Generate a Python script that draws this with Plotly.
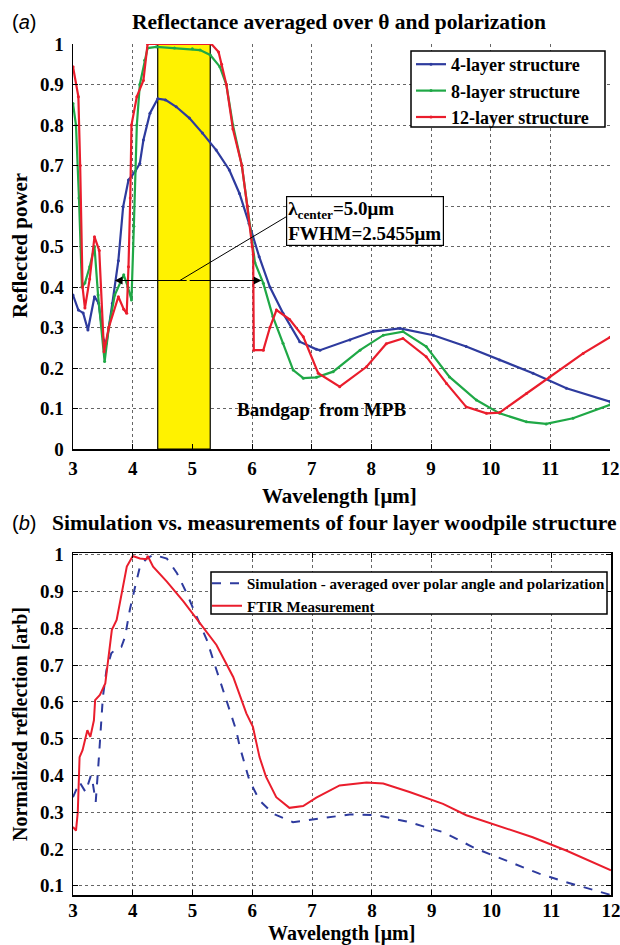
import plotly.graph_objects as go

# ---------------- data: panel (a) ----------------
x4 = [3.0, 3.09, 3.17, 3.25, 3.36, 3.43, 3.51, 3.56, 3.66, 3.76, 3.84, 3.93, 4.04, 4.12, 4.18, 4.29,
      4.42, 4.55, 4.73, 4.95, 5.17, 5.40, 5.62, 5.79, 5.95, 6.12, 6.30, 6.52, 6.80, 7.08, 7.14, 7.64,
      8.03, 8.48, 9.04, 9.59, 10.15, 10.71, 11.27, 12.0]
y4 = [0.38, 0.343, 0.336, 0.294, 0.376, 0.36, 0.27, 0.261, 0.36, 0.465, 0.598, 0.664, 0.685, 0.705,
      0.763, 0.829, 0.865, 0.862, 0.845, 0.817, 0.78, 0.738, 0.689, 0.631, 0.557, 0.475, 0.40, 0.335,
      0.265, 0.246, 0.244, 0.269, 0.29, 0.298, 0.281, 0.253, 0.22, 0.187, 0.15, 0.117]

x8 = [3.0, 3.05, 3.1, 3.15, 3.2, 3.28, 3.36, 3.42, 3.53, 3.6, 3.7, 3.85, 3.92, 3.98, 4.02, 4.07,
      4.12, 4.2, 4.25, 4.4, 4.7, 5.0, 5.13, 5.30, 5.46, 5.57, 5.68, 5.83, 5.92, 6.0, 6.05, 6.19,
      6.35, 6.52, 6.69, 6.86, 7.08, 7.36, 7.81, 8.2, 8.53, 8.92, 9.31, 9.76, 10.15, 10.6, 10.93,
      11.38, 12.0]
y8 = [0.853, 0.80, 0.62, 0.40, 0.41, 0.45, 0.50, 0.38, 0.216, 0.30, 0.38, 0.43, 0.40, 0.368, 0.55,
      0.80, 0.90, 0.96, 0.99, 0.993, 0.99, 0.988, 0.985, 0.973, 0.944, 0.90, 0.80, 0.70, 0.60, 0.51,
      0.46, 0.409, 0.327, 0.261, 0.195, 0.175, 0.177, 0.191, 0.244, 0.281, 0.29, 0.253, 0.178,
      0.121, 0.088, 0.067, 0.062, 0.076, 0.109]

x12 = [3.0, 3.09, 3.12, 3.16, 3.2, 3.28, 3.36, 3.44, 3.52, 3.6, 3.76, 3.85, 3.9, 3.93, 3.96, 3.98,
       4.07, 4.18, 4.25, 5.32, 5.44, 5.49, 5.57, 5.68, 5.83, 5.92, 6.0, 6.02, 6.03, 6.19, 6.30,
       6.41, 6.63, 6.86, 7.11, 7.47, 7.92, 8.25, 8.53, 8.92, 9.26, 9.59, 9.93, 10.15, 10.6, 10.99,
       11.55, 12.0]
y12 = [0.944, 0.87, 0.70, 0.40, 0.348, 0.42, 0.524, 0.49, 0.24, 0.30, 0.376, 0.345, 0.335, 0.45,
       0.62, 0.80, 0.87, 0.91, 1.0, 1.0, 0.98, 0.95, 0.90, 0.79, 0.70, 0.60, 0.50, 0.48, 0.244,
       0.244, 0.30, 0.343, 0.32, 0.277, 0.187, 0.154, 0.203, 0.26, 0.273, 0.228, 0.162, 0.104,
       0.088, 0.09, 0.137, 0.178, 0.236, 0.276]

# ---------------- data: panel (b) ----------------
x_sim = [3.0, 3.11, 3.21, 3.3, 3.33, 3.38, 3.43, 3.47, 3.5, 3.56, 3.64, 3.73, 3.81, 3.87, 3.95,
         4.04, 4.12, 4.23, 4.35, 4.57, 4.74, 4.9, 5.07, 5.24, 5.40, 5.57, 5.73, 5.79, 5.95, 6.12,
         6.35, 6.68, 7.07, 7.63, 8.08, 8.58, 9.19, 9.74, 10.24, 10.8, 11.25, 12.0]
y_sim = [0.341, 0.382, 0.355, 0.40, 0.38, 0.328, 0.441, 0.55, 0.614, 0.687, 0.732, 0.746, 0.75,
         0.777, 0.85, 0.914, 0.968, 0.99, 1.0, 0.99, 0.95, 0.896, 0.832, 0.768, 0.687, 0.605, 0.523,
         0.478, 0.387, 0.332, 0.296, 0.273, 0.282, 0.294, 0.292, 0.275, 0.246, 0.201, 0.169, 0.133,
         0.11, 0.075]

x_ftir = [3.0, 3.05, 3.08, 3.11, 3.16, 3.24, 3.29, 3.35, 3.37, 3.45, 3.54, 3.59, 3.65, 3.73, 3.81,
          3.9, 4.0, 4.12, 4.23, 4.25, 4.34, 4.57, 4.85, 5.12, 5.40, 5.68, 5.90, 6.01, 6.12, 6.23,
          6.4, 6.62, 6.85, 7.07, 7.46, 7.91, 8.19, 8.63, 9.19, 9.58, 10.19, 10.69, 11.25, 12.0]
y_ftir = [0.26, 0.25, 0.30, 0.45, 0.469, 0.523, 0.505, 0.55, 0.605, 0.619, 0.65, 0.723, 0.796,
          0.823, 0.896, 0.968, 0.997, 0.99, 0.988, 0.997, 0.968, 0.927, 0.873, 0.814, 0.755, 0.668,
          0.569, 0.532, 0.45, 0.396, 0.341, 0.312, 0.317, 0.34, 0.373, 0.381, 0.378, 0.355, 0.323,
          0.292, 0.26, 0.232, 0.196, 0.142]

x_ticks = [3, 4, 5, 6, 7, 8, 9, 10, 11, 12]
y_ticks_b = [0.1, 0.2, 0.3, 0.4, 0.5, 0.6, 0.7, 0.8, 0.9, 1]
bandgap = [4.42, 5.30]
fwhm_ends = [3.70, 6.16]
fwhm_y = 0.416

# ---------------- figure ----------------
SERIF = "Liberation Serif, Times New Roman, serif"
SANS = "Liberation Sans, Arial, sans-serif"
BLUE = "#2E3B9E"
GREEN = "#1FA846"
RED = "#EA1D2C"

W, H = 620, 945
L, R, T, B = 73, 9, 44, 50
PW, PH = W - L - R, H - T - B


def px(X):
    return (X - L) / PW


def py(Y):
    return (H - B - Y) / PH


fig = go.Figure()
for xs, ys, name, col in [(x4, y4, "4-layer structure", BLUE),
                          (x8, y8, "8-layer structure", GREEN),
                          (x12, y12, "12-layer structure", RED)]:
    fig.add_trace(go.Scatter(x=xs, y=ys, name=name, mode="lines+markers",
                             line=dict(color=col, width=2.2),
                             marker=dict(size=3, color=col),
                             xaxis="x", yaxis="y", legend="legend"))

fig.add_trace(go.Scatter(x=x_sim, y=y_sim, name="Simulation - averaged over polar angle and polarization",
                         mode="lines", line=dict(color=BLUE, width=2, dash="dash"),
                         xaxis="x2", yaxis="y2", legend="legend2"))
fig.add_trace(go.Scatter(x=x_ftir, y=y_ftir, name="FTIR Measurement",
                         mode="lines", line=dict(color=RED, width=2),
                         xaxis="x2", yaxis="y2", legend="legend2"))

tickfont = dict(family=SERIF, size=19, color="black", weight="bold")
grid = dict(showgrid=True, gridcolor="#666", griddash="dot", gridwidth=1)
axcommon = dict(showline=True, linecolor="black", linewidth=1.5, automargin=False,
                ticks="inside", ticklen=5, tickcolor="black", ticklabeloverflow="allow",
                tickfont=tickfont, zeroline=False, **grid)

top_y0 = py(449)
bot_y1 = py(553)

fig.update_layout(
    width=W, height=H, margin=dict(l=L, r=R, t=T, b=B, autoexpand=False), autosize=False,
    paper_bgcolor="white", plot_bgcolor="white", hovermode=False,
    font=dict(family=SERIF, color="black"),
    xaxis=dict(domain=[0, (610 - L) / PW], range=[3, 12], tickvals=x_ticks, anchor="y",
               mirror=False, ticklabelstandoff=2, **axcommon),
    yaxis=dict(domain=[top_y0, 1], range=[0, 1], dtick=0.1, anchor="x",
               mirror=False, ticklabelstandoff=4, **axcommon),
    xaxis2=dict(domain=[0, 1], range=[3, 12], tickvals=x_ticks, anchor="y2",
                mirror="ticks", ticklabelstandoff=-2, **axcommon),
    yaxis2=dict(domain=[0, bot_y1], range=[0.075, 1.005], tickvals=y_ticks_b, anchor="x2",
                mirror="ticks", ticklabelstandoff=4, **axcommon),
    legend=dict(x=px(411), y=py(46), xanchor="left", yanchor="top",
                bgcolor="rgba(0,0,0,0)", borderwidth=0,
                font=dict(family=SERIF, size=18, color="black", weight="bold"),
                itemwidth=30, tracegroupgap=0),
    legend2=dict(x=1.0, y=py(567), xanchor="right", yanchor="top",
                 bgcolor="rgba(0,0,0,0)", borderwidth=0,
                 font=dict(family=SERIF, size=15, color="black", weight="bold"),
                 itemwidth=30, tracegroupgap=0),
    showlegend=True,
)

# legend frames
fig.add_shape(type="rect", xref="paper", yref="paper", x0=px(411), x1=px(605), y0=py(51), y1=py(127),
              fillcolor="white", line=dict(color="black", width=1.5), layer="above")
fig.add_shape(type="rect", xref="paper", yref="paper", x0=px(211), x1=px(607), y0=py(572), y1=py(614),
              fillcolor="white", line=dict(color="black", width=1.5), layer="above")

# bandgap rectangle
fig.add_shape(type="rect", xref="x", yref="y", x0=bandgap[0], x1=bandgap[1], y0=0, y1=1,
              fillcolor="#FFF200", line=dict(color="black", width=1.2), layer="between")

# FWHM double arrow
mid = (fwhm_ends[0] + fwhm_ends[1]) / 2
for end in fwhm_ends:
    fig.add_annotation(x=end, y=fwhm_y, ax=mid, ay=fwhm_y, xref="x", yref="y", axref="x", ayref="y",
                       text="", showarrow=True, arrowhead=2, arrowsize=1.3, arrowwidth=1.2,
                       arrowcolor="black")
# pointer line to the label
fig.add_shape(type="line", xref="x", yref="y", x0=4.79, y0=fwhm_y, x1=6.58, y1=0.574,
              line=dict(color="black", width=1))

fig.add_annotation(x=7.89, y=0.564, xref="x", yref="y", showarrow=False,
                   text="λ<sub>center</sub>=5.0μm<br>FWHM=2.5455μm", align="left",
                   font=dict(family=SERIF, size=19, color="black", weight="bold"),
                   bgcolor="white", bordercolor="black", borderwidth=1.2, borderpad=1)

fig.add_annotation(x=7.17, y=0.097, xref="x", yref="y", showarrow=False,
                   text="Bandgap  from MPB",
                   font=dict(family=SERIF, size=19, color="black", weight="bold"))


# titles and axis titles
def ann(text, X, Y, size, angle=0, family=SERIF, weight="bold"):
    fig.add_annotation(x=px(X), y=py(Y), xref="paper", yref="paper", showarrow=False,
                       text=text, textangle=angle, xanchor="center", yanchor="middle",
                       font=dict(family=family, size=size, color="black", weight=weight))


ann("Reflectance averaged over θ and polarization", 339, 22, 21.5)
ann("(<i>a</i>)", 24, 22, 20, family=SANS, weight="normal")
ann("Wavelength [μm]", 339, 496, 21)
ann("Reflected power", 20, 246, 21, angle=-90)

ann("Simulation vs. measurements of four layer woodpile structure", 334, 523, 21.5)
ann("(<i>b</i>)", 24, 523, 20, family=SANS, weight="normal")
ann("Wavelength [μm]", 341, 933, 20)
ann("Normalized reflection [arb]", 20, 724, 20, angle=-90)

fig.write_html("out.html",
               config={"responsive": False, "displayModeBar": False, "staticPlot": True},
               post_script="document.body.style.margin='0px';document.body.style.padding='0px';"
                           "document.documentElement.style.overflow='hidden';")
